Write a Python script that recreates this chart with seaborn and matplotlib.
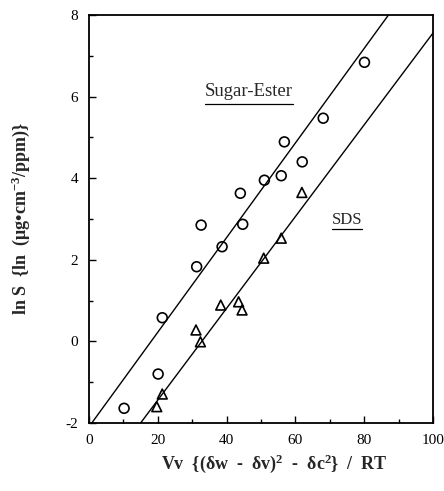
import numpy as np
import pandas as pd
import matplotlib
matplotlib.use("Agg")
import matplotlib.pyplot as plt
import seaborn as sns
from matplotlib.ticker import MultipleLocator

# --- data ---
sugar_x = [10.2, 20.1, 21.3, 31.3, 32.6, 38.7, 44.0, 44.7, 51.0, 55.9, 56.8, 62.0, 68.1, 80.1]
sugar_y = [-1.64, -0.80, 0.58, 1.83, 2.85, 2.32, 3.63, 2.87, 3.95, 4.06, 4.89, 4.40, 5.47, 6.84]
sds_x = [19.7, 21.3, 31.1, 32.4, 38.3, 43.5, 44.5, 50.8, 55.9, 61.9]
sds_y = [-1.60, -1.29, 0.28, -0.01, 0.89, 0.97, 0.77, 2.04, 2.53, 3.65]
# fitted lines (slope, intercept)
sugar_fit = (0.1159, -2.093)
sds_fit = (0.1124, -3.686)
series_names = ["Sugar-Ester", "SDS"]

sns.set_theme(style="ticks")
plt.rcParams["font.family"] = ["Liberation Serif", "DejaVu Serif"]
plt.rcParams["axes.unicode_minus"] = False
plt.rcParams["mathtext.fontset"] = "custom"
plt.rcParams["mathtext.rm"] = "Liberation Serif"
plt.rcParams["mathtext.it"] = "Liberation Serif:italic"
plt.rcParams["mathtext.bf"] = "Liberation Serif:bold"

fig = plt.figure(figsize=(4.44, 4.91), dpi=100)
ax = fig.add_axes([0.2005, 0.1385, 0.7745, 0.831])

df = pd.DataFrame({
    "x": sugar_x + sds_x,
    "y": sugar_y + sds_y,
    "series": [series_names[0]] * len(sugar_x) + [series_names[1]] * len(sds_x),
})

sns.scatterplot(data=df, x="x", y="y", style="series",
                markers={"Sugar-Ester": "o", "SDS": "^"},
                s=50, edgecolor="black", linewidth=1.2,
                legend=False, ax=ax)
for coll in ax.collections:
    coll.set_facecolor("none")
    coll.set_edgecolor("black")

xs = np.linspace(-5, 105, 200)
for slope, icpt in (sugar_fit, sds_fit):
    sns.lineplot(x=xs, y=slope * xs + icpt, color="black", linewidth=1.0, ax=ax)

ax.set_xlim(0, 100)
ax.set_ylim(-2, 8)
ax.xaxis.set_major_locator(MultipleLocator(20))
ax.xaxis.set_minor_locator(MultipleLocator(10))
ax.yaxis.set_major_locator(MultipleLocator(2))
ax.yaxis.set_minor_locator(MultipleLocator(1))
ax.tick_params(which="both", direction="in", top=False, right=False,
               labelsize=11, colors="black", width=1)
ax.tick_params(which="major", length=5, pad=8)
ax.tick_params(which="minor", length=3)
for sp in ax.spines.values():
    sp.set_linewidth(1.3)
    sp.set_color("black")

ax.set_xlabel(r"Vv  {(δw  -  δv)$^{\mathbf{2}}$  -  δc$^{\mathbf{2}}$}  /  RT",
              fontsize=13, fontweight="bold", va="center")
ax.xaxis.set_label_coords(0.54, -0.1)
ax.set_ylabel(r"ln S  {ln  (μg•cm$^{\mathbf{-3}}$/ppm)}", fontsize=13,
              fontweight="bold", va="center")
ax.yaxis.set_label_coords(-0.2, 0.50)

labels = [
    (ax.text(46.5, 6.01, series_names[0], fontsize=13.5, ha="center", va="baseline"), 8),
    (ax.text(75.0, 2.88, series_names[1], fontsize=12, ha="center", va="baseline"), 5),
]

fig.canvas.draw()
inv = ax.transData.inverted()
for t, off in labels:
    bb = t.get_window_extent()
    base = ax.transData.transform(t.get_position())[1] - off
    (x0, y0), (x1, _) = inv.transform([(bb.x0, base), (bb.x1, base)])
    ax.plot([x0, x1], [y0, y0], color="black", linewidth=0.9)

fig.savefig("out.png", dpi=100)
